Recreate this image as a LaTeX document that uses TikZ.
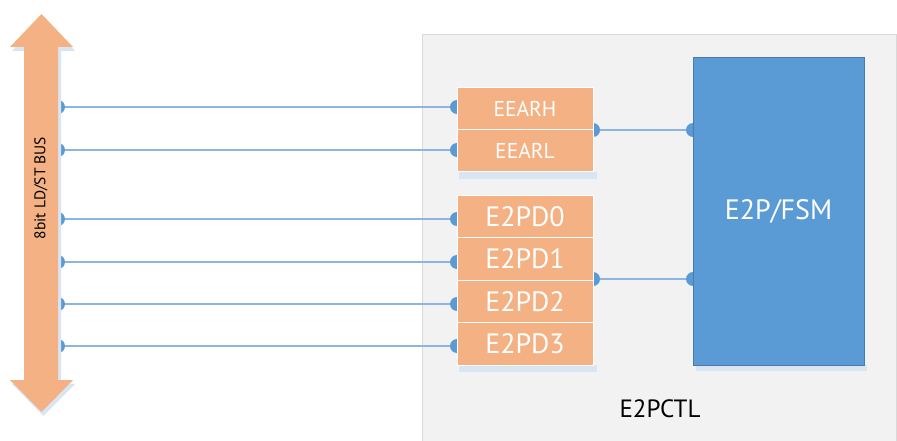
\documentclass[tikz,border=0pt]{standalone}
\usepackage{fontspec}
\setmainfont{PT Sans}
\begin{document}
\begin{tikzpicture}[x=1pt,y=-1pt,
  reg/.style={draw=white,line width=1pt,fill=regor,minimum width=136pt,inner sep=0pt,text=white},
  wire/.style={draw=wireblue,line width=1.3pt},
  dot/.style={fill=dotblue,draw=none,circle,minimum size=14pt,inner sep=0pt},
  shadow/.style={fill=shadowblue,draw=none}]
\definecolor{regor}{HTML}{F4B183}
\definecolor{wireblue}{HTML}{8DB4E2}
\definecolor{dotblue}{HTML}{5B9BD5}
\definecolor{fsmblue}{HTML}{5B9BD5}
\definecolor{shadowblue}{HTML}{DAE5F2}
\definecolor{panelgray}{HTML}{F2F2F2}
\definecolor{panelborder}{HTML}{D9D9D9}
\useasboundingbox (0,0) rectangle (897,441);
\fill[white] (0,0) rectangle (897,441);
% panel
\draw[fill=panelgray,draw=panelborder,line width=1pt] (422,35) rectangle (896,441);
\node[font=\fontsize{25}{28}\selectfont] (ctl) at (660,409) {E2PCTL};
% bus coordinates and wires
\foreach \i/\y in {1/107,2/150,3/219,4/262,5/304,6/346} {
  \coordinate (b\i) at (58,\y);
  \coordinate (r\i) at (457,\y);
  \draw[wire] (b\i) -- (r\i);
  \node[dot] at (b\i) {};
  \node[dot] at (r\i) {};
}
\coordinate (ea) at (593,130);
\coordinate (fa) at (693,130);
\coordinate (ed) at (593,279);
\coordinate (fd) at (693,279);
\draw[wire] (ea) -- (fa);
\draw[wire] (ed) -- (fd);
\node[dot] at (ea) {};
\node[dot] at (fa) {};
\node[dot] at (ed) {};
\node[dot] at (fd) {};
% shadows of registers
\fill[shadow] (459,172) rectangle (597,179);
\fill[shadow] (459,365) rectangle (597,372);
% registers
\node[reg,minimum height=42pt,font=\fontsize{21.5}{24}\selectfont] (eearh) at (525,109) {EEARH};
\node[reg,minimum height=42pt,font=\fontsize{21.5}{24}\selectfont] (eearl) at (525,151) {EEARL};
\node[reg,minimum height=42.5pt,font=\fontsize{28}{32}\selectfont] (pd0) at (525,216.25) {E2PD0};
\node[reg,minimum height=42.5pt,font=\fontsize{28}{32}\selectfont] (pd1) at (525,258.75) {E2PD1};
\node[reg,minimum height=42.5pt,font=\fontsize{28}{32}\selectfont] (pd2) at (525,301.25) {E2PD2};
\node[reg,minimum height=42.5pt,font=\fontsize{28}{32}\selectfont] (pd3) at (525,343.75) {E2PD3};
% FSM
\fill[shadow] (696,365) rectangle (867,371);
\node[fill=fsmblue,draw=fsmblue!80!black,line width=0.6pt,minimum width=171pt,minimum height=308pt,inner sep=0pt,text=white,font=\fontsize{28}{32}\selectfont] (fsm) at (778.5,211) {E2P/FSM};
% bus arrow
\fill[shadowblue] (43.5,17) -- (75,51) -- (61,51) -- (61,384) -- (75,384) -- (43.5,416) -- (12,384) -- (26,384) -- (26,51) -- (12,51) -- cycle;
\fill[regor] (41.5,14) -- (73,47) -- (58,47) -- (58,380) -- (73,380) -- (41.5,412) -- (10,380) -- (24,380) -- (24,47) -- (10,47) -- cycle;
\node[rotate=90,font=\fontsize{15.5}{17}\selectfont] (bus) at (41,188) {8bit LD/ST BUS};
\end{tikzpicture}
\end{document}
